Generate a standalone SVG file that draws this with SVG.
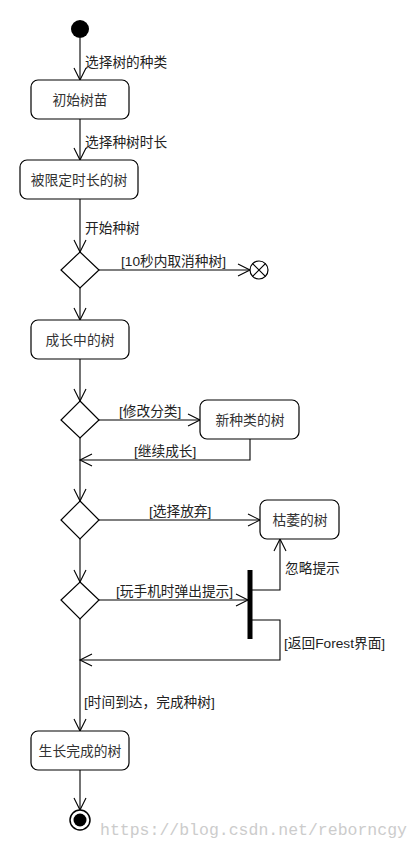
<svg xmlns="http://www.w3.org/2000/svg" width="420" height="850" viewBox="0 0 420 850">
<style>
.box{fill:#fff;stroke:#000;stroke-width:1.2}
.dia{fill:#fff;stroke:#000;stroke-width:1.2}
.ln{fill:none;stroke:#000;stroke-width:1.1;marker-end:url(#arr)}
.nt{font-family:"Liberation Sans","Noto Sans CJK SC",sans-serif;font-size:13.8px;fill:#333;text-anchor:middle}
.lb{font-family:"Liberation Sans","Noto Sans CJK SC",sans-serif;font-size:13.7px;fill:#222}
.wm{font-family:"Liberation Mono","DejaVu Sans Mono",monospace;font-size:16.5px;fill:#ccc}
</style>
<defs>
<marker id="arr" markerUnits="userSpaceOnUse" markerWidth="16" markerHeight="16" viewBox="-14 -8 16 16" refX="0" refY="0" orient="auto">
<path d="M-12,-6 L0,0 L-12,6" fill="none" stroke="#000" stroke-width="1.1"/>
</marker>
</defs>
<g id="connectors">
<path class="ln" d="M80,38 L80,80"/>
<path class="ln" d="M80,119 L80,160"/>
<path class="ln" d="M80,199 L80,252"/>
<path class="ln" d="M99,270 L250,270"/>
<path class="ln" d="M80,288 L80,320"/>
<path class="ln" d="M80,359 L80,401"/>
<path class="ln" d="M99,420 L200,420"/>
<path class="ln" d="M250,439 L250,460 L80,460"/>
<path class="ln" d="M80,438 L80,501"/>
<path class="ln" d="M99,520 L260,520"/>
<path class="ln" d="M80,539 L80,582"/>
<path class="ln" d="M99,600 L248,600"/>
<path class="ln" d="M252,590 L280,590 L280,539"/>
<path class="ln" d="M252,620 L280,620 L280,660 L80,660"/>
<path class="ln" d="M80,619 L80,731"/>
<path class="ln" d="M80,770 L80,810"/>
<text class="lb" x="85" y="67">选择树的种类</text>
<text class="lb" x="85" y="147">选择种树时长</text>
<text class="lb" x="85" y="233">开始种树</text>
<text class="lb" x="121" y="266">[10秒内取消种树]</text>
<text class="lb" x="119" y="416">[修改分类]</text>
<text class="lb" x="134" y="456">[继续成长]</text>
<text class="lb" x="149" y="516">[选择放弃]</text>
<text class="lb" x="285" y="573">忽略提示</text>
<text class="lb" x="116" y="596">[玩手机时弹出提示]</text>
<text class="lb" x="284" y="648">[返回Forest界面]</text>
<text class="lb" x="84" y="707">[时间到达，完成种树]</text>
</g>
<g id="start"><circle cx="80" cy="29" r="9" fill="#000"/></g>
<g id="n1"><rect class="box" x="31" y="80" width="98" height="39" rx="7"/><text class="nt" x="80" y="105">初始树苗</text></g>
<g id="n2"><rect class="box" x="20" y="160" width="118" height="39" rx="7"/><text class="nt" x="79" y="185">被限定时长的树</text></g>
<g id="d1"><polygon class="dia" points="80,252 99,270 80,288 61,270"/></g>
<g id="flowfinal"><circle cx="259" cy="270" r="9" fill="#fff" stroke="#000" stroke-width="1.2"/><path d="M252.6,263.6 L265.4,276.4 M265.4,263.6 L252.6,276.4" stroke="#000" stroke-width="1.2"/></g>
<g id="n3"><rect class="box" x="31" y="320" width="98" height="39" rx="7"/><text class="nt" x="80" y="345">成长中的树</text></g>
<g id="d2"><polygon class="dia" points="80,401 99,420 80,438 61,420"/></g>
<g id="n4"><rect class="box" x="200" y="400" width="99" height="39" rx="7"/><text class="nt" x="250" y="425">新种类的树</text></g>
<g id="d3"><polygon class="dia" points="80,501 99,520 80,539 61,520"/></g>
<g id="n5"><rect class="box" x="260" y="500" width="79" height="39" rx="7"/><text class="nt" x="300" y="525">枯萎的树</text></g>
<g id="d4"><polygon class="dia" points="80,582 99,600 80,619 61,600"/></g>
<g id="fork"><rect x="247.5" y="570" width="5" height="69" fill="#000"/></g>
<g id="n6"><rect class="box" x="31" y="731" width="98" height="39" rx="7"/><text class="nt" x="80" y="756">生长完成的树</text></g>
<g id="end"><circle cx="80" cy="820" r="10" fill="#fff" stroke="#000" stroke-width="1.5"/><circle cx="80" cy="820" r="6.5" fill="#000"/></g>
<text class="wm" x="100" y="835">https://blog.csdn.net/reborncgy</text>
</svg>
